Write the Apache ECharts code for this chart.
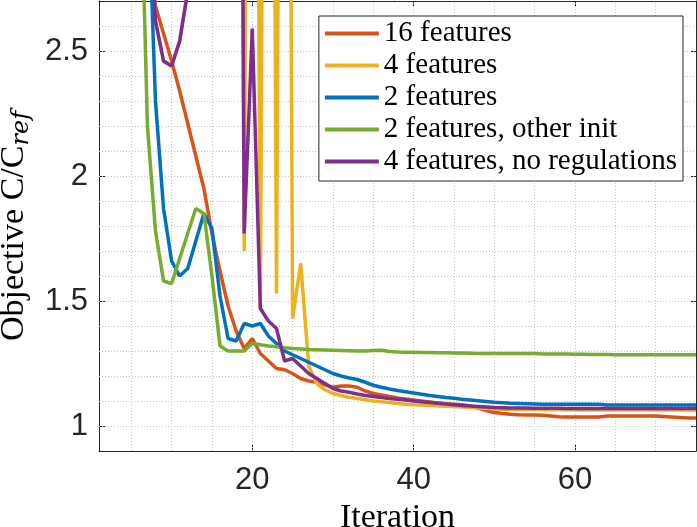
<!DOCTYPE html>
<html>
<head>
<meta charset="utf-8">
<script src="https://cdn.jsdelivr.net/npm/echarts@6/dist/echarts.min.js"></script>
<style>
  html, body { margin: 0; padding: 0; background: #fff; }
  #chart { width: 697px; height: 527px; }
</style>
</head>
<body>
<div id="chart"></div>
<script>
  // iteration numbers (x)
  var iterations = [1, 2, 3, 4, 5, 6, 7, 8, 9, 10, 11, 12, 13, 14, 15, 16, 17, 18, 19, 20,
    21, 22, 23, 24, 25, 26, 27, 28, 29, 30, 31, 32, 33, 34, 35, 36, 37, 38, 39, 40,
    41, 42, 43, 44, 45, 46, 47, 48, 49, 50, 51, 52, 53, 54, 55, 56, 57, 58, 59, 60,
    61, 62, 63, 64, 65, 66, 67, 68, 69, 70, 71, 72, 73, 74, 75]

  var features16 = [6.5, 5.4, 4.6, 3.9, 3.4, 3.1, 2.88, 2.68, 2.57, 2.46, 2.34, 2.21, 2.08, 1.95, 1.77, 1.62, 1.48, 1.38, 1.31, 1.35,
    1.29, 1.26, 1.23, 1.225, 1.21, 1.19, 1.18, 1.175, 1.165, 1.155, 1.16, 1.16, 1.155, 1.14, 1.13, 1.124, 1.118, 1.112, 1.108, 1.104,
    1.1, 1.096, 1.092, 1.089, 1.087, 1.085, 1.08, 1.072, 1.062, 1.054, 1.05, 1.047, 1.045, 1.044, 1.044, 1.043, 1.04, 1.037, 1.036, 1.036,
    1.036, 1.036, 1.036, 1.04, 1.04, 1.04, 1.04, 1.04, 1.04, 1.04, 1.038, 1.036, 1.034, 1.032, 1.032]

  var features4 = [7, 6, 5.2, 4.6, 4.1, 3.7, 3.4, 2.62, 2.46, 2.44, 2.54, 2.74, 4.5, 6, 7, 7.5, 8, 8, 1.7, 8,
    1.47, 8, 1.53, 8, 1.43, 1.65, 1.24, 1.17, 1.145, 1.13, 1.122, 1.115, 1.11, 1.105, 1.1, 1.097, 1.094, 1.09, 1.087, 1.085,
    1.084, 1.082, 1.08, 1.079, 1.078, 1.076, 1.074, 1.072, 1.07, 1.068, 1.067, 1.066, 1.066, 1.066, 1.066, 1.066, 1.066, 1.065, 1.065, 1.065,
    1.064, 1.064, 1.064, 1.064, 1.064, 1.064, 1.064, 1.064, 1.064, 1.064, 1.064, 1.064, 1.064, 1.064, 1.064]

  var features2 = [6, 5.2, 4.5, 4.0, 3.7, 3.45, 3.2, 2.3, 1.87, 1.66, 1.6, 1.63, 1.74, 1.85, 1.79, 1.52, 1.35, 1.34, 1.41, 1.4,
    1.41, 1.36, 1.33, 1.3, 1.285, 1.27, 1.255, 1.24, 1.225, 1.21, 1.2, 1.192, 1.186, 1.175, 1.163, 1.155, 1.148, 1.142, 1.137, 1.132,
    1.127, 1.122, 1.118, 1.114, 1.111, 1.107, 1.104, 1.101, 1.098, 1.095, 1.093, 1.091, 1.09, 1.089, 1.088, 1.087, 1.087, 1.087, 1.087, 1.087,
    1.087, 1.087, 1.087, 1.084, 1.084, 1.084, 1.084, 1.084, 1.084, 1.084, 1.084, 1.084, 1.084, 1.084, 1.084]

  var features2Other = [6, 5.3, 4.7, 4.2, 3.8, 3.45, 2.2, 1.78, 1.58, 1.57, 1.67, 1.77, 1.87, 1.85, 1.6, 1.32, 1.3, 1.3, 1.3, 1.33,
    1.325, 1.32, 1.317, 1.313, 1.31, 1.308, 1.306, 1.305, 1.304, 1.303, 1.302, 1.301, 1.3, 1.3, 1.302, 1.303, 1.298, 1.296, 1.295, 1.295,
    1.294, 1.294, 1.293, 1.293, 1.292, 1.292, 1.291, 1.29, 1.29, 1.29, 1.29, 1.29, 1.29, 1.29, 1.29, 1.288, 1.288, 1.288, 1.288, 1.287,
    1.287, 1.286, 1.286, 1.286, 1.285, 1.285, 1.285, 1.285, 1.285, 1.285, 1.285, 1.285, 1.285, 1.285, 1.285]

  var features4NoReg = [7, 6, 5.2, 4.6, 4.1, 3.7, 3.4, 2.62, 2.46, 2.44, 2.54, 2.74, 4.5, 6, 7, 7.5, 8, 8, 1.77, 2.59,
    1.47, 1.42, 1.39, 1.26, 1.27, 1.24, 1.21, 1.19, 1.17, 1.15, 1.14, 1.135, 1.128, 1.122, 1.118, 1.114, 1.11, 1.107, 1.104, 1.1,
    1.097, 1.094, 1.091, 1.088, 1.085, 1.082, 1.08, 1.078, 1.076, 1.074, 1.073, 1.072, 1.072, 1.072, 1.071, 1.071, 1.071, 1.071, 1.07, 1.07,
    1.07, 1.07, 1.07, 1.07, 1.07, 1.07, 1.07, 1.07, 1.07, 1.07, 1.07, 1.07, 1.07, 1.07, 1.07]

  var seriesNames = ['16 features', '4 features', '2 features', '2 features, other init', '4 features, no regulations']
  var seriesColors = ['#D95319', '#EDB120', '#0072BD', '#77AC30', '#7E2F8E']

  var xTicks = [20, 40, 60]
  var yTicks = [1, 1.5, 2, 2.5]
  var xGrid = [5, 10, 15, 20, 25, 30, 35, 40, 45, 50, 55, 60, 65, 70]
  var yGrid = [1, 1.1, 1.2, 1.3, 1.4, 1.5, 1.6, 1.7, 1.8, 1.9, 2, 2.1, 2.2, 2.3, 2.4, 2.5, 2.6]

  var chart = echarts.init(document.getElementById('chart'))

  var axisColor = '#262626'
  var tickFont = { fontFamily: 'Liberation Sans', fontSize: 31, color: axisColor }

  function pairs(values) {
    return values.map(function (v, i) { return [iterations[i], v] })
  }

  var gridLines = xGrid.map(function (v) { return { xAxis: v } })
    .concat(yGrid.map(function (v) { return { yAxis: v } }))

  var allData = [features16, features4, features2, features2Other, features4NoReg]
  var series = allData.map(function (vals, i) {
    var s = {
      name: seriesNames[i],
      type: 'line',
      data: pairs(vals),
      showSymbol: false,
      symbol: 'none',
      color: seriesColors[i],
      lineStyle: { color: seriesColors[i], width: 3.5 },
      z: 2 + i
    }
    if (i === 0) {
      // dotted major + minor grid
      s.markLine = {
        silent: true,
        symbol: 'none',
        z: 1,
        label: { show: false },
        lineStyle: { color: '#c4c4c4', type: [1, 2], width: 1 },
        data: gridLines
      }
    }
    return s
  })

  chart.setOption({
    animation: false,
    backgroundColor: '#fff',
    grid: { left: 99, right: 1, top: 1, bottom: 76, outerBoundsMode: 'none', containLabel: false },
    legend: {
      data: seriesNames,
      orient: 'vertical',
      right: 14,
      top: 16,
      icon: 'rect',
      itemWidth: 54,
      itemHeight: 4,
      itemGap: 3,
      padding: [3, 6, 5, 6],
      backgroundColor: '#fff',
      borderColor: axisColor,
      borderWidth: 1,
      textStyle: { fontFamily: 'Liberation Serif', fontSize: 29, lineHeight: 29, color: '#000' }
    },
    xAxis: [{
      type: 'value',
      min: 1,
      max: 75,
      position: 'bottom',
      axisLine: { show: true, onZero: false, lineStyle: { color: axisColor, width: 1 } },
      axisTick: { show: true, inside: true, length: 6, customValues: xTicks, lineStyle: { color: axisColor } },
      axisLabel: Object.assign({ customValues: xTicks, margin: 14 }, tickFont),
      splitLine: { show: false },
      name: 'Iteration',
      nameLocation: 'middle',
      nameGap: 43,
      nameTextStyle: { fontFamily: 'Liberation Serif', fontSize: 34, color: '#000' }
    }, {
      type: 'value',
      min: 1,
      max: 75,
      position: 'top',
      axisLine: { show: true, onZero: false, lineStyle: { color: axisColor, width: 1 } },
      axisTick: { show: true, inside: true, length: 6, customValues: xTicks, lineStyle: { color: axisColor } },
      axisLabel: { show: false },
      splitLine: { show: false }
    }],
    yAxis: [{
      type: 'value',
      min: 0.9,
      max: 2.7,
      position: 'left',
      axisLine: { show: true, onZero: false, lineStyle: { color: axisColor, width: 1 } },
      axisTick: { show: true, inside: true, length: 6, customValues: yTicks, lineStyle: { color: axisColor } },
      axisLabel: Object.assign({ customValues: yTicks, margin: 11 }, tickFont),
      splitLine: { show: false },
      name: '{m|Objective C/C}{s|ref}',
      nameLocation: 'middle',
      nameRotate: 90,
      nameGap: 57,
      nameTextStyle: {
        fontFamily: 'Liberation Serif',
        fontSize: 34,
        color: '#000',
        rich: {
          m: { fontFamily: 'Liberation Serif', fontSize: 34, lineHeight: 40, color: '#000' },
          s: { fontFamily: 'DejaVu Serif', fontStyle: 'italic', fontSize: 24, lineHeight: 24, verticalAlign: 'bottom', color: '#000' }
        }
      }
    }, {
      type: 'value',
      min: 0.9,
      max: 2.7,
      position: 'right',
      axisLine: { show: true, onZero: false, lineStyle: { color: axisColor, width: 1 } },
      axisTick: { show: true, inside: true, length: 6, customValues: yTicks, lineStyle: { color: axisColor } },
      axisLabel: { show: false },
      splitLine: { show: false }
    }],
    series: series
  })
</script>
</body>
</html>
